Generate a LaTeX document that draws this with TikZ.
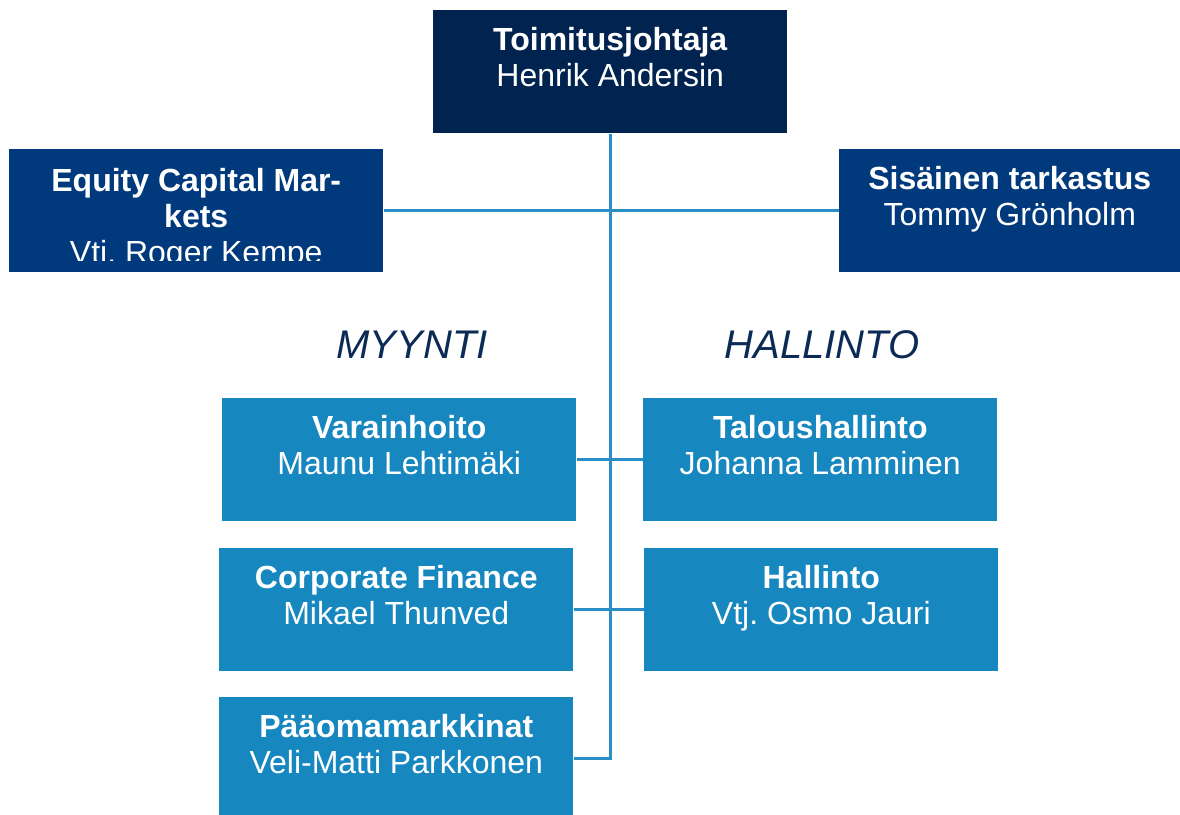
\documentclass[tikz,border=0pt]{standalone}
\usepackage{fontspec}
\setmainfont{Liberation Sans}
\usetikzlibrary{positioning}
\definecolor{ceonavy}{HTML}{00234F}
\definecolor{deptnavy}{HTML}{003A7D}
\definecolor{unitblue}{HTML}{1787BF}
\definecolor{linkblue}{HTML}{2A8DC5}
\definecolor{headnavy}{HTML}{0B2A55}
\frenchspacing

\begin{document}
\begin{tikzpicture}[x=0.75pt,y=-0.75pt,
	box/.style={inner sep=0pt, anchor=north west, minimum width=265.5pt, minimum height=92.25pt},
	txt/.style={inner sep=0pt, align=center, text=white, font=\fontsize{24}{27}\selectfont},
	head/.style={inner sep=0pt, text=headnavy, font=\fontsize{30}{36}\selectfont\itshape},
	link/.style={draw=linkblue, line width=2.2pt}]
	\useasboundingbox (0,0) rectangle (1180,814);
	% boxes
	\node [box, fill=ceonavy] (ceo) at (433,10) {};
	\node [box, fill=deptnavy, minimum width=280.5pt] (ecm) at (9,149) {};
	\node [box, fill=deptnavy, minimum width=255.75pt] (sis) at (839,149) {};
	\node [box, fill=unitblue] (var) at (222,398) {};
	\node [box, fill=unitblue] (tal) at (643,398) {};
	\node [box, fill=unitblue] (cf) at (219,548) {};
	\node [box, fill=unitblue] (hal) at (644,548) {};
	\node [box, fill=unitblue] (pam) at (219,697) {};
	% connectors
	\draw [link] (ceo.south) -- (ceo.south |- pam.east) -- (pam.east);
	\draw [link] (ecm.east) -- (sis.west);
	\draw [link] (var.east) -- (tal.west);
	\draw [link] (cf.east) -- (hal.west);
	% texts
	\node [txt, below=12.5pt of ceo.north] (ceotxt) {\textbf{Toimitusjohtaja}\\Henrik Andersin};
	\begin{scope}
		\clip (ecm.north west) rectangle ([yshift=9pt]ecm.south east);
		\node [txt, below=14pt of ecm.north] (ecmtxt) {\textbf{Equity Capital Mar-}\\\textbf{kets}\\Vti. Roger Kempe};
	\end{scope}
	\node [txt, below=13pt of sis.north] (sistxt) {\textbf{Sisäinen tarkastus}\\Tommy Grönholm};
	\node [txt, below=13pt of var.north] (vartxt) {\textbf{Varainhoito}\\Maunu Lehtimäki};
	\node [txt, below=13pt of tal.north] (taltxt) {\textbf{Taloushallinto}\\Johanna Lamminen};
	\node [txt, below=13pt of cf.north] (cftxt) {\textbf{Corporate Finance}\\Mikael Thunved};
	\node [txt, below=13pt of hal.north] (haltxt) {\textbf{Hallinto}\\Vtj. Osmo Jauri};
	\node [txt, below=13pt of pam.north] (pamtxt) {\textbf{Pääomamarkkinat}\\Veli-Matti Parkkonen};
	% headings
	\node [head] (myynti) at (412,345) {MYYNTI};
	\node [head] (hallinto) at (822,345) {HALLINTO};
\end{tikzpicture}
\end{document}
